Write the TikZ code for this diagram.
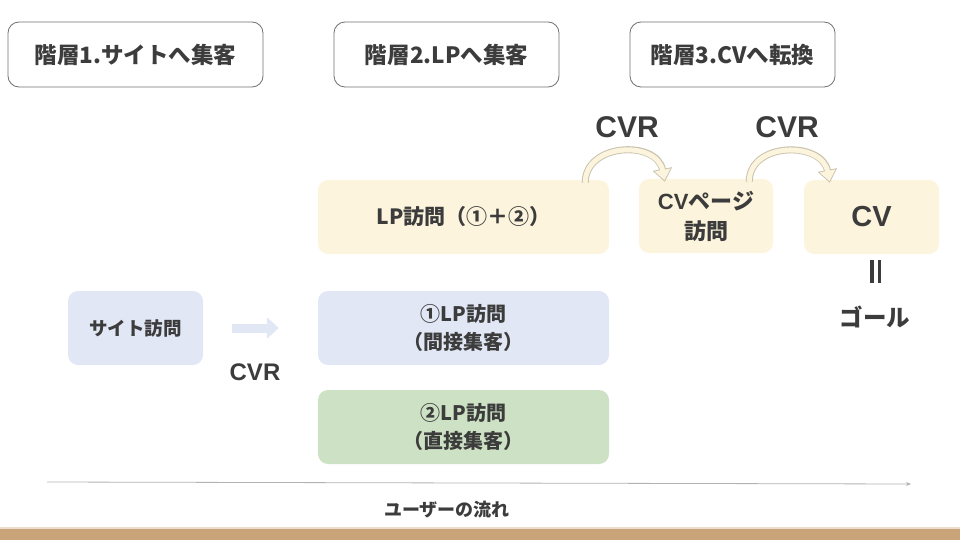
\documentclass[tikz,border=0pt]{standalone}
\usepackage{fontspec}
\setmainfont{Noto Sans CJK JP}
\newfontfamily\latin{Liberation Sans}
\usetikzlibrary{arrows.meta}
\definecolor{txt}{HTML}{3C3C3C}
\definecolor{cream}{HTML}{FCF4DC}
\definecolor{creamedge}{HTML}{C9C3AE}
\definecolor{pblue}{HTML}{E1E7F5}
\definecolor{pgreen}{HTML}{CDE2C4}
\definecolor{band}{HTML}{C9A478}
\definecolor{bandtop}{HTML}{EBDCCB}
\definecolor{hdredge}{HTML}{707070}
\tikzset{
  hdr/.style={draw=hdredge, line width=0.8pt, fill=white, rounded corners=11pt,
    minimum height=65pt, text=txt, font=\bfseries\fontsize{22.5}{26}\selectfont, inner sep=0pt},
  card/.style={rounded corners=10pt, minimum height=74pt, text=txt, align=center, inner sep=0pt,
    font=\bfseries\fontsize{20}{28}\selectfont},
  lbl/.style={text=txt, inner sep=0pt, font=\bfseries\fontsize{24}{28}\selectfont},
}
\begin{document}
\begin{tikzpicture}[x=1pt,y=-1pt]
\useasboundingbox (0,0) rectangle (960,540);
% bottom band
\fill[band] (0,528) rectangle (960,540);
\fill[bandtop] (0,527) rectangle (960,529);
% headers
\node[hdr, minimum width=255pt] (h1) at (135.5,54.5) {階層1.サイトへ集客};
\node[hdr, minimum width=225pt] (h2) at (446.5,54.5) {階層2.LPへ集客};
\node[hdr, minimum width=205pt] (h3) at (732.5,54.5) {階層3.CVへ転換};
% cards
\node[card, fill=cream, minimum width=291pt, font=\bfseries\fontsize{21}{28}\selectfont] (lp) at (463.5,217) {LP訪問（①＋②）};
\node[card, fill=cream, minimum width=134pt, font=\bfseries\fontsize{22}{30}\selectfont] (cvp) at (706,216) {{\latin CV}ページ\\訪問};
\node[card, fill=cream, minimum width=135pt, font=\latin\bfseries\fontsize{29}{30}\selectfont] (cv) at (871.5,217) {CV};
\node[card, fill=pblue, minimum width=135pt, font=\bfseries\fontsize{18.5}{24}\selectfont] (site) at (135.5,328) {サイト訪問};
\node[card, fill=pblue, minimum width=291pt] (lp1) at (463.5,328) {①LP訪問\\（間接集客）};
\node[card, fill=pgreen, minimum width=291pt] (lp2) at (463.5,427) {②LP訪問\\（直接集客）};
% labels
\node[lbl, font=\latin\bfseries\fontsize{30}{30}\selectfont] (cvr1) at (627,127) {CVR};
\node[lbl, font=\latin\bfseries\fontsize{30}{30}\selectfont] (cvr2) at (787,127) {CVR};
\node[lbl, font=\latin\bfseries\fontsize{24}{24}\selectfont] (cvr3) at (255,372) {CVR};
\node[lbl] (eq) at (875.5,271.5) {\rule{3.5pt}{23pt}\hspace{4pt}\rule{3.5pt}{23pt}};
\node[lbl, font=\bfseries\fontsize{23.5}{26}\selectfont] (goal) at (875,317) {ゴール};
\node[lbl, font=\bfseries\fontsize{18}{20}\selectfont] (flow) at (447,510) {ユーザーの流れ};
% curved arrows
\coordinate (a1s) at ([xshift=-24pt,yshift=-3pt]lp.north east);
\coordinate (a1e) at ([xshift=26pt,yshift=-3pt]cvp.north west);
\coordinate (a2s) at ([xshift=-24pt,yshift=-3pt]cvp.north east);
\coordinate (a2e) at ([xshift=26pt,yshift=-3pt]cv.north west);
\foreach \s/\e in {a1s/a1e, a2s/a2e}{
  \draw[creamedge, line width=7pt, -{Triangle[width=19pt,length=13pt]}]
    (\s) .. controls +(0,-40) and +(-8,-42) .. (\e);
  \draw[cream, line width=5pt, shorten >=1.6pt, -{Triangle[width=15.5pt,length=10.5pt]}]
    (\s) .. controls +(0,-40) and +(-8,-42) .. (\e);
}
% block arrow
\coordinate (ba1) at ([xshift=29pt]site.east);
\coordinate (ba2) at ([xshift=-39pt]lp1.west);
\draw[pblue, line width=9pt, -{Triangle[width=21pt,length=12pt]}] (ba1) -- (ba2);
% timeline
\coordinate (t1) at (47,482);
\coordinate (t2) at (911,484);
\draw[gray!60, line width=0.8pt, -{Stealth[length=5pt,width=4pt]}] (t1) -- (t2);
\end{tikzpicture}
\end{document}
